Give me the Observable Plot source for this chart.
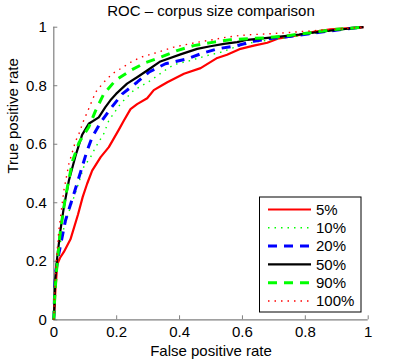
<!DOCTYPE html>
<html>
<head>
<meta charset="utf-8">
<script src="https://cdn.jsdelivr.net/npm/d3@7"></script>
<script src="https://cdn.jsdelivr.net/npm/@observablehq/plot@0.6"></script>
<style>
  html, body { margin: 0; padding: 0; background: #fff; }
  #chart { width: 407px; height: 361px; }
</style>
</head>
<body>
<div id="chart"></div>
<script>
// ---- data (false positive rate, true positive rate) ----
const seriesLabels = ["5%", "10%", "20%", "50%", "90%", "100%"];
const xTicks = [0, 0.2, 0.4, 0.6, 0.8, 1];
const yTicks = [0, 0.2, 0.4, 0.6, 0.8, 1];
const titleText = "ROC \u2013 corpus size comparison";
const xLabel = "False positive rate";
const yLabel = "True positive rate";

const roc5 = [[0,0],[0.003,0.05],[0.005,0.1],[0.011,0.19],[0.02,0.212],[0.032,0.232],[0.053,0.275],[0.077,0.36],[0.092,0.42],[0.106,0.465],[0.122,0.51],[0.149,0.556],[0.175,0.59],[0.207,0.65],[0.223,0.681],[0.244,0.72],[0.265,0.737],[0.297,0.757],[0.318,0.785],[0.339,0.798],[0.361,0.812],[0.414,0.841],[0.467,0.86],[0.52,0.895],[0.551,0.906],[0.594,0.926],[0.636,0.937],[0.679,0.947],[0.716,0.962],[0.774,0.972],[0.827,0.984],[0.88,0.993],[0.93,0.996],[0.985,1]];
const roc10 = [[0,0],[0.003,0.08],[0.008,0.17],[0.016,0.24],[0.027,0.294],[0.042,0.351],[0.064,0.419],[0.08,0.47],[0.095,0.522],[0.117,0.556],[0.133,0.59],[0.159,0.636],[0.175,0.681],[0.212,0.738],[0.254,0.784],[0.308,0.818],[0.35,0.85],[0.382,0.872],[0.434,0.886],[0.488,0.903],[0.53,0.914],[0.572,0.93],[0.636,0.949],[0.7,0.958],[0.78,0.97],[0.86,0.984],[0.93,0.995],[0.985,1]];
const roc20 = [[0,0],[0.002,0.07],[0.005,0.157],[0.016,0.226],[0.037,0.339],[0.064,0.431],[0.09,0.522],[0.105,0.575],[0.122,0.624],[0.149,0.675],[0.18,0.721],[0.218,0.772],[0.265,0.812],[0.302,0.846],[0.355,0.875],[0.424,0.892],[0.467,0.909],[0.52,0.926],[0.583,0.937],[0.636,0.952],[0.689,0.961],[0.76,0.97],[0.84,0.982],[0.92,0.993],[0.985,1]];
const roc50 = [[0,0],[0.002,0.05],[0.004,0.134],[0.011,0.214],[0.021,0.305],[0.032,0.385],[0.048,0.476],[0.069,0.56],[0.09,0.632],[0.111,0.67],[0.143,0.692],[0.164,0.727],[0.18,0.75],[0.198,0.772],[0.233,0.807],[0.265,0.829],[0.297,0.852],[0.339,0.883],[0.403,0.907],[0.456,0.926],[0.498,0.935],[0.541,0.943],[0.583,0.949],[0.615,0.957],[0.657,0.961],[0.711,0.967],[0.78,0.975],[0.85,0.985],[0.92,0.993],[0.985,1]];
const roc90 = [[0,0],[0.003,0.08],[0.008,0.16],[0.014,0.23],[0.021,0.305],[0.037,0.419],[0.05,0.49],[0.06,0.544],[0.08,0.605],[0.095,0.632],[0.111,0.658],[0.133,0.715],[0.159,0.772],[0.196,0.818],[0.244,0.852],[0.29,0.878],[0.339,0.897],[0.392,0.92],[0.445,0.937],[0.509,0.949],[0.562,0.957],[0.62,0.961],[0.679,0.964],[0.75,0.972],[0.82,0.982],[0.9,0.993],[0.985,1]];
const roc100 = [[0,0],[0.002,0.08],[0.006,0.17],[0.016,0.305],[0.032,0.442],[0.048,0.533],[0.069,0.61],[0.08,0.636],[0.095,0.681],[0.111,0.721],[0.133,0.778],[0.159,0.812],[0.186,0.841],[0.212,0.858],[0.244,0.88],[0.276,0.897],[0.329,0.914],[0.382,0.932],[0.445,0.946],[0.509,0.958],[0.551,0.966],[0.594,0.972],[0.636,0.975],[0.679,0.977],[0.75,0.982],[0.85,0.99],[0.92,0.995],[0.985,1]];

// ---- layout ----
const W = 407, H = 361;
const mL = 53.3, mR = 39.3, mT = 26.7, mB = 41.7;
const plotW = W - mL - mR, plotH = H - mT - mB;
const FONT = "'Liberation Sans', Arial, Helvetica, sans-serif";
const axisGrey = "#808080";

const styles = [
  {stroke: "#ff0000", strokeWidth: 2.2},
  {stroke: "#00ff00", strokeWidth: 1.4, strokeDasharray: "1.5,5"},
  {stroke: "#0000ff", strokeWidth: 3, strokeDasharray: "9,7"},
  {stroke: "#000000", strokeWidth: 2.2},
  {stroke: "#00ff00", strokeWidth: 3, strokeDasharray: "9,7"},
  {stroke: "#ff0000", strokeWidth: 1.4, strokeDasharray: "1.5,5"}
];
const seriesData = [roc5, roc10, roc20, roc50, roc90, roc100];

const lineMarks = seriesData.map((s, i) =>
  Plot.line(s, {x: d => d[0], y: d => d[1], ...styles[i], strokeLinejoin: "round", strokeLinecap: "butt"})
);

const chart = Plot.plot({
  width: W, height: H,
  marginLeft: mL, marginRight: mR, marginTop: mT, marginBottom: mB,
  style: {fontFamily: FONT, fontSize: "15px", color: "#000", background: "#fff", overflow: "visible"},
  x: {domain: [0, 1]},
  y: {domain: [0, 1]},
  marks: [
    Plot.ruleY([0], {stroke: axisGrey, strokeWidth: 1.2}),
    Plot.ruleX([0], {stroke: axisGrey, strokeWidth: 1.2}),
    Plot.tickX(xTicks, {x: d => d, insetTop: plotH - 4, stroke: axisGrey}),
    Plot.tickY(yTicks, {y: d => d, insetRight: plotW - 4, stroke: axisGrey}),
    Plot.axisX({ticks: xTicks, tickSize: 0, tickPadding: 7, tickFormat: d => String(d), label: null, fontSize: 15}),
    Plot.axisY({ticks: yTicks, tickSize: 0, tickPadding: 7, tickFormat: d => String(d), label: null, fontSize: 15}),
    ...lineMarks,
    Plot.text([titleText], {text: d => d, frameAnchor: "top", dy: -16, fontSize: 15, lineAnchor: "middle"}),
    Plot.text([xLabel], {text: d => d, frameAnchor: "bottom", dy: 36.5, fontSize: 15, lineAnchor: "bottom"}),
    Plot.text([yLabel], {text: d => d, frameAnchor: "left", dx: -41, rotate: -90, fontSize: 15, lineAnchor: "middle"})
  ]
});

// ---- legend (drawn inside the same SVG) ----
const svg = d3.select(chart);
const lg = svg.append("g").attr("font-family", FONT).attr("font-size", 15).attr("text-anchor", "start");
const lx = 259.5, ly = 197, lw = 101.5, lh = 115;
lg.append("rect").attr("x", lx).attr("y", ly).attr("width", lw).attr("height", lh)
  .attr("fill", "#fff").attr("stroke", "#000").attr("stroke-width", 1);
seriesLabels.forEach((lab, i) => {
  const yy = 209.5 + i * 18.3;
  const st = styles[i];
  lg.append("line").attr("x1", 268).attr("x2", 311).attr("y1", yy).attr("y2", yy)
    .attr("stroke", st.stroke).attr("stroke-width", st.strokeWidth)
    .attr("stroke-dasharray", st.strokeDasharray || null);
  lg.append("text").attr("x", 316).attr("y", yy).attr("dy", "0.35em")
    .attr("text-anchor", "start").attr("fill", "#000").text(lab);
});

document.getElementById("chart").appendChild(chart);
</script>
</body>
</html>
